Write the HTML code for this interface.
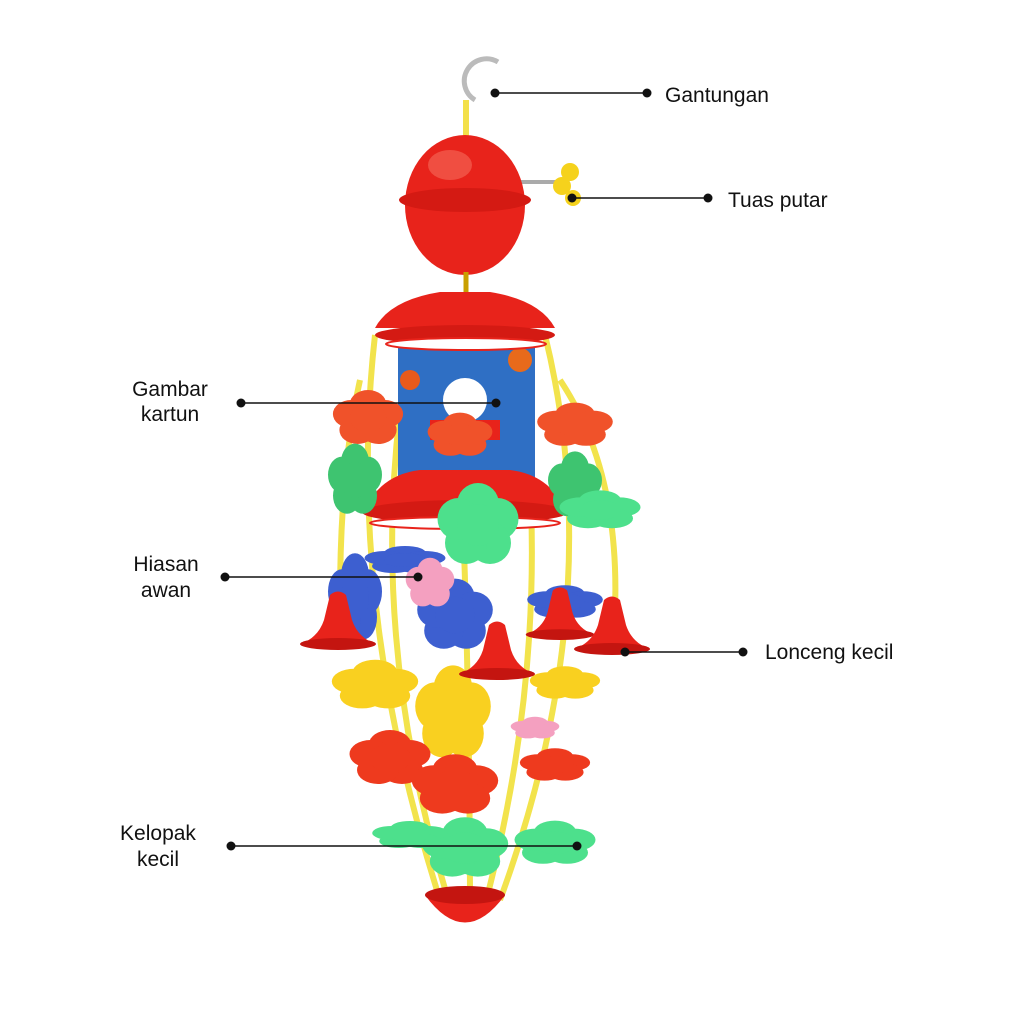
<!DOCTYPE html>
<html><head><meta charset="utf-8"><style>
html,body{margin:0;padding:0;background:#fff;}
svg{display:block;}
text{font-family:"Liberation Sans",sans-serif;font-size:21px;fill:#111;}
</style></head><body>
<svg width="1024" height="1024" viewBox="0 0 1024 1024" xmlns="http://www.w3.org/2000/svg">
<defs>
<g id="fl"><circle cx="0" cy="-14" r="14"/><circle cx="13" cy="-4" r="14"/><circle cx="8" cy="12" r="14"/><circle cx="-8" cy="12" r="14"/><circle cx="-13" cy="-4" r="14"/><circle r="14"/></g>
<g id="bell"><path d="M-8,-35 Q0,-42 8,-35 L14,-10 Q20,8 38,14 L-38,14 Q-20,8 -14,-10 Z" fill="#e8231b"/><ellipse cx="0" cy="14" rx="38" ry="6" fill="#c41510"/></g>
</defs>
<!-- hook -->
<path d="M475,100 A22,22 0 1,1 498,62" fill="none" stroke="#bbb" stroke-width="5"/>
<line x1="466" y1="100" x2="466" y2="140" stroke="#f3e04a" stroke-width="6"/>
<!-- strings -->
<g stroke="#f2e34c" stroke-width="6" fill="none">
<path d="M375,335 Q345,600 440,900"/><path d="M410,345 Q360,620 450,905"/>
<path d="M455,345 Q470,620 470,910"/><path d="M545,335 Q610,600 500,900"/>
<path d="M515,345 Q560,620 485,905"/><path d="M560,380 Q620,470 615,610"/>
<path d="M360,380 Q340,470 340,600"/>
</g>
<!-- ball -->
<line x1="520" y1="182" x2="565" y2="182" stroke="#aaa" stroke-width="4"/>
<circle cx="570" cy="172" r="9" fill="#f5d21c"/><circle cx="562" cy="186" r="9" fill="#f5d21c"/><circle cx="573" cy="198" r="8" fill="#f5d21c"/>
<ellipse cx="465" cy="205" rx="60" ry="70" fill="#e8231b"/>
<ellipse cx="465" cy="200" rx="66" ry="12" fill="#d41a13"/>
<ellipse cx="450" cy="165" rx="22" ry="15" fill="#f56a5c" opacity=".6"/>
<line x1="466" y1="272" x2="466" y2="295" stroke="#c9a000" stroke-width="5"/>
<!-- cylinder -->
<rect x="398" y="340" width="137" height="150" fill="#2f6fc4"/>
<circle cx="465" cy="400" r="22" fill="#fff"/><rect x="430" y="420" width="70" height="20" fill="#e8231b"/>
<circle cx="410" cy="380" r="10" fill="#e85a1b"/><circle cx="520" cy="360" r="12" fill="#e86a1b"/>
<!-- top cap -->
<path d="M375,328 Q390,300 440,292 L490,292 Q540,300 555,328 Z" fill="#e8231b"/>
<ellipse cx="465" cy="335" rx="90" ry="10" fill="#d41a13"/>
<ellipse cx="466" cy="344" rx="80" ry="6" fill="#fff" stroke="#e8231b" stroke-width="2"/>
<!-- bottom cap -->
<path d="M365,510 Q380,475 420,470 L510,470 Q550,475 565,510 Z" fill="#e8231b"/>
<ellipse cx="465" cy="512" rx="103" ry="12" fill="#d41a13"/>
<ellipse cx="465" cy="523" rx="95" ry="6" fill="#fff" stroke="#e8231b" stroke-width="2"/>
<!-- flowers -->
<g fill="#f0522a"><use href="#fl" transform="translate(368,418) scale(1.3,1)"/><use href="#fl" transform="translate(575,425) scale(1.4,.8)"/><use href="#fl" transform="translate(460,435) scale(1.2,.8)"/></g>
<g fill="#3ec470"><use href="#fl" transform="translate(355,480) scale(1,1.3)"/><use href="#fl" transform="translate(575,485) scale(1,1.2)"/></g>
<g fill="#4de08c"><use href="#fl" transform="translate(478,525) scale(1.5)"/><use href="#fl" transform="translate(600,510) scale(1.5,.7)"/><use href="#fl" transform="translate(465,848) scale(1.6,1.1)"/><use href="#fl" transform="translate(555,843) scale(1.5,.8)"/><use href="#fl" transform="translate(410,835) scale(1.4,.5)"/></g>
<g fill="#3d5fd0"><use href="#fl" transform="translate(355,598) scale(1,1.6)"/><use href="#fl" transform="translate(455,615) scale(1.4,1.3)"/><use href="#fl" transform="translate(565,602) scale(1.4,.6)"/><use href="#fl" transform="translate(405,560) scale(1.5,.5)"/></g>
<g fill="#f4a0c0"><use href="#fl" transform="translate(430,583) scale(.9)"/><use href="#fl" transform="translate(535,728) scale(.9,.4)"/></g>
<g fill="#f9d020"><use href="#fl" transform="translate(453,713) scale(1.4,1.7)"/><use href="#fl" transform="translate(375,685) scale(1.6,.9)"/><use href="#fl" transform="translate(565,683) scale(1.3,.6)"/></g>
<g fill="#ee3a1e"><use href="#fl" transform="translate(390,758) scale(1.5,1)"/><use href="#fl" transform="translate(455,785) scale(1.6,1.1)"/><use href="#fl" transform="translate(555,765) scale(1.3,.6)"/></g>
<!-- bells -->
<use href="#bell" transform="translate(338,630)"/><use href="#bell" transform="translate(497,660)"/>
<use href="#bell" transform="translate(560,622) scale(.9)"/><use href="#bell" transform="translate(612,635)"/>
<!-- bottom bowl -->
<path d="M425,895 Q465,950 505,895 Z" fill="#e8231b"/>
<ellipse cx="465" cy="895" rx="40" ry="9" fill="#c41510"/>
<!-- labels -->
<g stroke="#111" stroke-width="1.5"><line x1="495" y1="93" x2="647" y2="93"/><line x1="572" y1="198" x2="708" y2="198"/><line x1="241" y1="403" x2="496" y2="403"/><line x1="225" y1="577" x2="418" y2="577"/><line x1="625" y1="652" x2="743" y2="652"/><line x1="231" y1="846" x2="577" y2="846"/></g>
<g fill="#111"><circle cx="495" cy="93" r="4.5"/><circle cx="647" cy="93" r="4.5"/><circle cx="572" cy="198" r="4.5"/><circle cx="708" cy="198" r="4.5"/><circle cx="241" cy="403" r="4.5"/><circle cx="496" cy="403" r="4.5"/><circle cx="225" cy="577" r="4.5"/><circle cx="418" cy="577" r="4.5"/><circle cx="625" cy="652" r="4.5"/><circle cx="743" cy="652" r="4.5"/><circle cx="231" cy="846" r="4.5"/><circle cx="577" cy="846" r="4.5"/></g>
<text x="665" y="102">Gantungan</text>
<text x="728" y="207">Tuas putar</text>
<text x="170" y="396" text-anchor="middle">Gambar</text><text x="170" y="421" text-anchor="middle">kartun</text>
<text x="166" y="571" text-anchor="middle">Hiasan</text><text x="166" y="597" text-anchor="middle">awan</text>
<text x="765" y="659">Lonceng kecil</text>
<text x="158" y="840" text-anchor="middle">Kelopak</text><text x="158" y="866" text-anchor="middle">kecil</text>
</svg>
</body></html>
